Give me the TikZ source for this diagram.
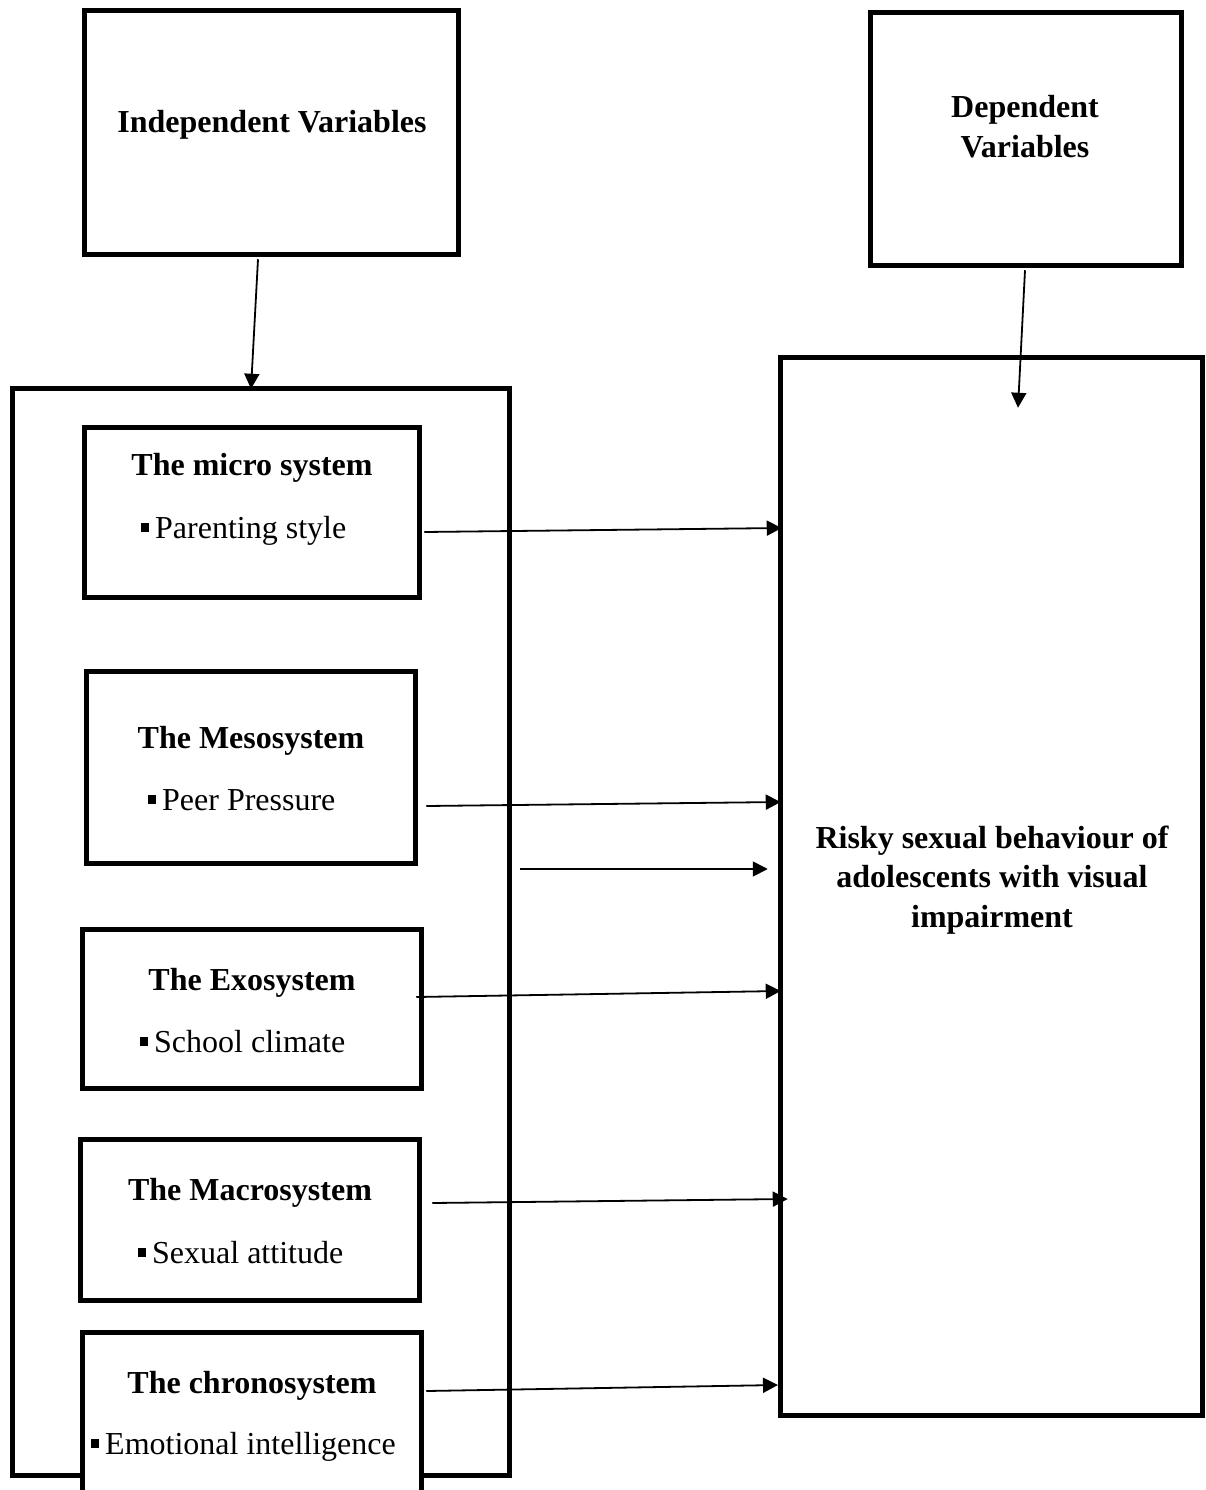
\documentclass[tikz,border=0pt]{standalone}
\usepackage{fontspec}
\setmainfont{Liberation Serif}
\usetikzlibrary{arrows.meta}
\newcommand\bul{\rule[6pt]{8pt}{9pt}\hspace{6pt}}
\begin{document}
\begin{tikzpicture}[x=1pt,y=-1pt,
  box/.style={draw,line width=5pt,fill=white,inner sep=0pt},
  ttl/.style={font=\fontsize{32}{40}\selectfont\bfseries,anchor=base,align=center,inner sep=0pt},
  itm/.style={font=\fontsize{32}{40}\selectfont,anchor=base west,inner sep=0pt},
  arr/.style={line width=1.8pt,-{Triangle[length=15pt,width=15pt]}}]
\path[use as bounding box,clip] (0,0) rectangle (1206,1490);
\fill[white] (0,0) rectangle (1206,1490);
% top boxes
\node[box,minimum width=374pt,minimum height=244pt] (indep) at (271.5,132.5) {};
\node[box,minimum width=311pt,minimum height=253pt] (dep) at (1026,139) {};
% big boxes
\node[box,minimum width=497pt,minimum height=1087pt] (big) at (261,932) {};
\node[box,minimum width=422pt,minimum height=1058pt] (risk) at (991.5,886.5) {};
% sub-system boxes
\node[box,minimum width=335pt,minimum height=170pt] (micro) at (252,512.5) {};
\node[box,minimum width=329pt,minimum height=192pt] (meso) at (251,767.5) {};
\node[box,minimum width=339pt,minimum height=159pt] (exo) at (252,1009) {};
\node[box,minimum width=339pt,minimum height=161pt] (macro) at (250,1220) {};
\node[box,minimum width=339pt,minimum height=175pt] (chrono) at (252,1420) {};
% texts
\node[ttl] (tindep) at (272,133) {Independent Variables};
\node[ttl] (tdep1) at (1025,118) {Dependent};
\node[ttl] (tdep2) at (1025,158) {Variables};
\node[ttl] (tr1) at (992,848) {Risky sexual behaviour of};
\node[ttl] (tr2) at (992,887) {adolescents with visual};
\node[ttl] (tr3) at (992,927) {impairment};
\node[ttl] (tmicro) at (252,475) {The micro system};
\node[itm] (imicro) at (141,538) {\bul Parenting style};
\node[ttl] (tmeso) at (251,748) {The Mesosystem};
\node[itm] (imeso) at (148,810) {\bul Peer Pressure};
\node[ttl] (texo) at (252,990) {The Exosystem};
\node[itm] (iexo) at (140,1052) {\bul School climate};
\node[ttl] (tmacro) at (250,1200) {The Macrosystem};
\node[itm] (imacro) at (138,1263) {\bul Sexual attitude};
\node[ttl] (tchrono) at (252,1393) {The chronosystem};
\node[itm] (ichrono) at (91,1454) {\bul Emotional intelligence};
% arrows
\draw[arr] ([xshift=-13.5pt,yshift=-2.25pt]indep.south) -- ([xshift=-10pt,yshift=-2.75pt]big.north);
\draw[arr] ([xshift=-1pt,yshift=-2.25pt]dep.south) -- ([xshift=26.5pt,yshift=-52.75pt]risk.north);
\draw[arr] ([xshift=2.25pt,yshift=-19.5pt]micro.east) -- ([xshift=3.75pt,yshift=358.5pt]risk.west);
\draw[arr] ([xshift=8.25pt,yshift=-38.5pt]meso.east) -- ([xshift=2.75pt,yshift=84.5pt]risk.west);
\draw[arr] ([xshift=8.25pt,yshift=63pt]big.east) -- ([xshift=-10.25pt,yshift=17.5pt]risk.west);
\draw[arr] ([xshift=-7.75pt,yshift=12pt]exo.east) -- ([xshift=2.75pt,yshift=-104.5pt]risk.west);
\draw[arr] ([xshift=10.25pt,yshift=17pt]macro.east) -- ([xshift=9.75pt,yshift=-312.5pt]risk.west);
\draw[arr] ([xshift=2.25pt,yshift=29pt]chrono.east) -- ([xshift=0pt,yshift=-498.5pt]risk.west);
\end{tikzpicture}
\end{document}
